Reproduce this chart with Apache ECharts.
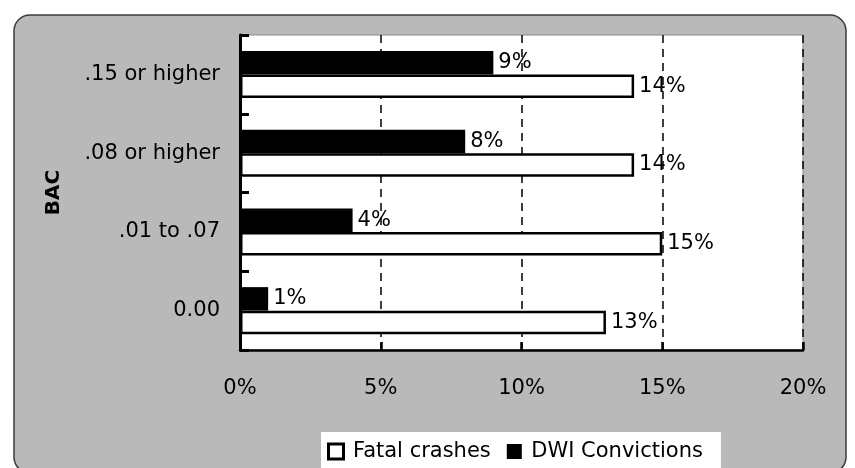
<!DOCTYPE html>
<html>
<head>
<meta charset="utf-8">
<script src="https://cdn.jsdelivr.net/npm/echarts@6/dist/echarts.min.js"></script>
<style>
html,body{margin:0;padding:0;background:#fff;}
#c{width:855px;height:468px;}
</style>
</head>
<body>
<div id="c"></div>
<script>
var categories = ['0.00', '.01 to .07', '.08 or higher', '.15 or higher'];
var fatalCrashes = [13, 15, 14, 14];
var dwiConvictions = [1, 4, 8, 9];
var xTicks = [0, 5, 10, 15, 20];

var FONT = 'DejaVu Sans';
var chart = echarts.init(document.getElementById('c'));
var labelCfg = {
  show: true, position: 'right', distance: 5,
  formatter: '{c}%', color: '#000', fontSize: 21, fontFamily: FONT
};
var sq = 'path://M0,0h10v10h-10z';
chart.setOption({
  animation: false,
  backgroundColor: '#fff',
  graphic: [{
    type: 'rect', z: -10, silent: true,
    shape: { x: 14, y: 15, width: 832, height: 458, r: 16 },
    style: { fill: '#b9b9b9', stroke: '#3c3c3c', lineWidth: 1.5 }
  }],
  grid: {
    left: 240, right: 52, top: 35, bottom: 118,
    show: true, backgroundColor: '#fff', borderColor: '#8a8a8a', borderWidth: 1
  },
  legend: {
    left: 321, top: 432,
    backgroundColor: '#fff',
    padding: [9, 18, 14, 6],
    itemWidth: 24, itemHeight: 15, itemGap: 16,
    symbolKeepAspect: true,
    textStyle: { fontSize: 21, fontFamily: FONT, color: '#000' },
    data: [
      { name: 'Fatal crashes', icon: sq, itemStyle: { color: '#fff', borderColor: '#000', borderWidth: 3 } },
      { name: 'DWI Convictions', icon: sq, itemStyle: { color: '#000', borderWidth: 0 } }
    ]
  },
  xAxis: {
    type: 'value', min: xTicks[0], max: xTicks[xTicks.length - 1], interval: 5,
    axisLine: { show: true, lineStyle: { color: '#000', width: 2.5 } },
    axisTick: { show: true, inside: true, length: 8, lineStyle: { color: '#000', width: 2.5 } },
    axisLabel: { formatter: '{value}%', margin: 28, color: '#000', fontSize: 21, fontFamily: FONT },
    splitLine: { show: true, lineStyle: { color: '#000', width: 1.5, type: [8, 6] } }
  },
  yAxis: {
    type: 'category', data: categories,
    name: 'BAC', nameLocation: 'middle', nameGap: 176,
    nameTextStyle: { fontSize: 20, fontWeight: 'bold', fontFamily: FONT, color: '#000' },
    axisLine: { show: true, lineStyle: { color: '#000', width: 3 } },
    axisTick: { show: true, inside: true, length: 9, lineStyle: { color: '#000', width: 3 } },
    axisLabel: { margin: 20, color: '#000', fontSize: 21, fontFamily: FONT },
    splitLine: { show: false }
  },
  series: [
    {
      name: 'DWI Convictions', type: 'bar', data: dwiConvictions,
      barWidth: 23.5, barGap: '0%',
      itemStyle: { color: '#000' },
      label: labelCfg
    },
    {
      name: 'Fatal crashes', type: 'bar', data: fatalCrashes,
      barWidth: 23.5, barGap: '0%',
      itemStyle: { color: '#fff', borderColor: '#000', borderWidth: 2.5 },
      label: labelCfg
    }
  ]
});
</script>
</body>
</html>
